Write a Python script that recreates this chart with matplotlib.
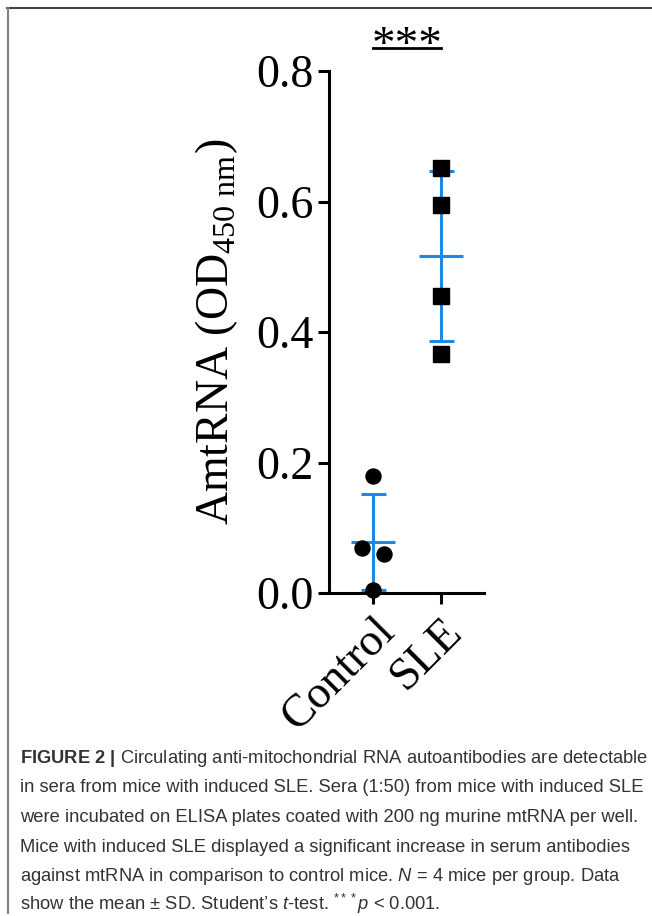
import numpy as np
import matplotlib
matplotlib.use('Agg')
import matplotlib.pyplot as plt
from matplotlib.lines import Line2D

plt.rcParams['font.family'] = ['Liberation Serif', 'DejaVu Serif']
plt.rcParams['mathtext.fontset'] = 'custom'
plt.rcParams['mathtext.rm'] = 'Liberation Serif'
plt.rcParams['mathtext.it'] = 'Liberation Sans:italic'
plt.rcParams['mathtext.bf'] = 'Liberation Sans:bold'
plt.rcParams['mathtext.sf'] = 'Liberation Sans'

# data
groups = ['Control', 'SLE']
control_values = [0.180, 0.069, 0.060, 0.004]
control_jitter = [0.0, -0.16, 0.16, 0.0]
sle_values = [0.652, 0.595, 0.455, 0.366]
sle_jitter = [0.0, 0.0, 0.0, 0.0]
y_ticks = [0.0, 0.2, 0.4, 0.6, 0.8]
y_tick_labels = ['0.0', '0.2', '0.4', '0.6', '0.8']
significance = '***'

caption_lines = [
    r'$\mathbf{FIGURE\ 2\ |}$ Circulating anti-mitochondrial RNA autoantibodies are detectable',
    'in sera from mice with induced SLE. Sera (1:50) from mice with induced SLE',
    'were incubated on ELISA plates coated with 200 ng murine mtRNA per well.',
    'Mice with induced SLE displayed a significant increase in serum antibodies',
    r'against mtRNA in comparison to control mice. $\mathit{N}$ = 4 mice per group. Data',
    r'show the mean ± SD. Student’s $\mathit{t}$-test. $^{\mathsf{***}}\mathit{p}$ < 0.001.',
]

blue = '#1e88e5'

fig = plt.figure(figsize=(6.52, 9.16), dpi=100)
ax = fig.add_axes([329 / 652, 1 - 593 / 916, 155 / 652, 522 / 916])

# mean +- SD
for i, vals in enumerate([control_values, sle_values]):
    m = np.mean(vals)
    sd = np.std(vals, ddof=1)
    ax.errorbar([i], [m], yerr=[sd], fmt='none', ecolor=blue,
                elinewidth=2.2, capsize=9, capthick=2.2, zorder=2)
    ax.plot([i], [m], marker='_', ms=31.7, mew=2.2, color=blue,
            ls='none', zorder=2)

ax.plot(np.array(control_jitter) + 0, control_values, 'o', color='black',
        ms=10.8, zorder=3, clip_on=False)
ax.plot(np.array(sle_jitter) + 1, sle_values, 's', color='black',
        ms=11.3, zorder=3, clip_on=False)

ax.set_xlim(-0.647, 1.632)
ax.set_ylim(0, 0.8)
ax.set_yticks(y_ticks)
ax.set_yticklabels(y_tick_labels)
ax.set_xticks(range(len(groups)))
ax.set_xticklabels(groups, rotation=45, ha='right', va='top',
                   rotation_mode='anchor')

for s in ['top', 'right']:
    ax.spines[s].set_visible(False)
for s in ['left', 'bottom']:
    ax.spines[s].set_linewidth(2.2)
ax.tick_params(axis='both', width=2.2, length=8, labelsize=33, pad=3)
ax.tick_params(axis='x', pad=4)

ax.set_ylabel(r'AmtRNA (OD$_{\mathrm{450\ nm}}$)', fontsize=33, labelpad=12)

# significance bar
ax.plot([0, 1], [0.835, 0.835], color='black', lw=2.0, clip_on=False)
ax.text(0.5, 0.82, significance, ha='center', va='baseline', fontsize=34,
        clip_on=False)

# frame lines of the figure panel
fig.add_artist(Line2D([7 / 652, 1], [1 - 8 / 916, 1 - 8 / 916],
                      transform=fig.transFigure, color='#444444', lw=1.5))
fig.add_artist(Line2D([7.5 / 652, 7.5 / 652], [1 - 8 / 916, 1 - 913 / 916],
                      transform=fig.transFigure, color='#808080', lw=1.5))

# caption
baseline0 = 763
for k, line in enumerate(caption_lines):
    y = 1 - (baseline0 + k * 29.5) / 916
    fig.text(20 / 652, y, line, ha='left', va='baseline', fontsize=13.2,
             family=['Liberation Sans', 'DejaVu Sans'], color='#333333')

fig.savefig('out.png', dpi=100)
